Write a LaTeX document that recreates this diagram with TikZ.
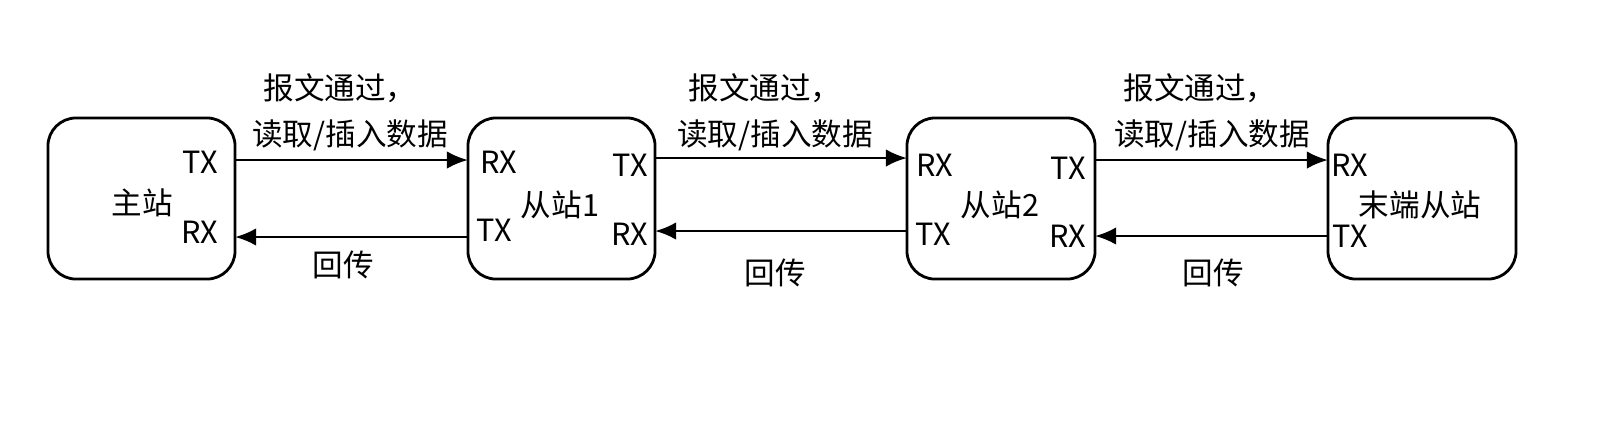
\documentclass[tikz,border=0pt]{standalone}
\usepackage{fontspec}
\setmainfont{Noto Sans CJK SC}
\usetikzlibrary{arrows.meta}
\tikzset{
  station/.style = {draw, rounded corners=8pt, line width=0.8pt, inner sep=0pt},
  link/.style = {-{Latex[length=6pt,width=5pt]}, line width=0.8pt},
  lbl/.style = {inner sep=0pt, font=\fontsize{8.7}{10}\selectfont}
}
\begin{document}
\begin{tikzpicture}[x=0.01cm, y=-0.01cm]
% stations
\node [station, minimum width=1.87cm, minimum height=1.61cm] (master) at (141.5,198.5) {};
\node [station, minimum width=1.87cm, minimum height=1.61cm] (slaveA) at (561.5,198.5) {};
\node [station, minimum width=1.88cm, minimum height=1.61cm] (slaveB) at (1001,198.5) {};
\node [station, minimum width=1.88cm, minimum height=1.61cm] (tail) at (1422,198.5) {};
\node [lbl] (mastername) at (142,203) {主站};
\node [lbl] (slaveAname) at (560,205) {从站1};
\node [lbl] (slaveBname) at (1000,205) {从站2};
\node [lbl] (tailname) at (1420,205) {末端从站};
% ports
\node [lbl] (mtx) at (200,162) {TX};
\node [lbl] (mrx) at (200,232) {RX};
\node [lbl] (arx) at (499,162) {RX};
\node [lbl] (atx) at (494,230) {TX};
\node [lbl] (atx2) at (630,165) {TX};
\node [lbl] (arx2) at (630,234) {RX};
\node [lbl] (brx) at (935,165) {RX};
\node [lbl] (btx) at (933,234) {TX};
\node [lbl] (btx2) at (1068,168) {TX};
\node [lbl] (brx2) at (1068,236) {RX};
\node [lbl] (trx) at (1350,165) {RX};
\node [lbl] (ttx) at (1350,236) {TX};
% link ends
\coordinate (m1) at (235,160); \coordinate (a1) at (468,160);
\coordinate (m2) at (235,237); \coordinate (a2) at (468,237);
\coordinate (a3) at (655,158); \coordinate (b1) at (907,158);
\coordinate (a4) at (655,231); \coordinate (b2) at (907,231);
\coordinate (b3) at (1095,160); \coordinate (t1) at (1328,160);
\coordinate (b4) at (1095,236); \coordinate (t2) at (1328,236);
\draw [link] (m1) -- (a1);
\draw [link] (a2) -- (m2);
\draw [link] (a3) -- (b1);
\draw [link] (b2) -- (a4);
\draw [link] (b3) -- (t1);
\draw [link] (t2) -- (b4);
% link texts
\foreach \x/\y/\n in {340/350/ta, 765/775/tb, 1200/1212/tc} {
  \node [lbl] (\n1) at (\x,88) {报文通过，};
  \node [lbl] (\n2) at (\y,135) {读取/插入数据};
}
\node [lbl] (backA) at (343,265) {回传};
\node [lbl] (backB) at (775,273) {回传};
\node [lbl] (backC) at (1213,273) {回传};
\pgfresetboundingbox
\useasboundingbox (0,0) rectangle (1607,420);
\end{tikzpicture}
\end{document}
